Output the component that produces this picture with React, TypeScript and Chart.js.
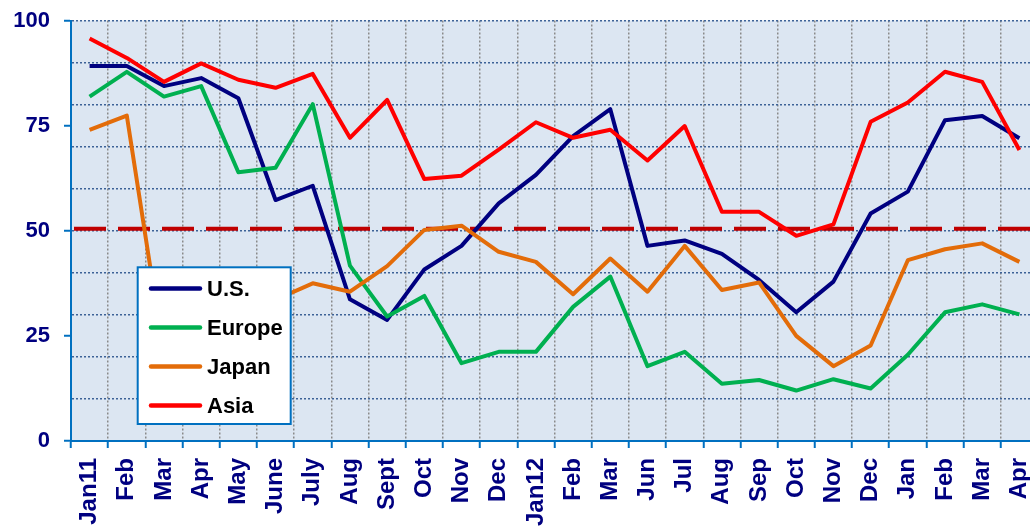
import React, { useEffect, useRef } from 'react';
import { Chart, registerables } from 'chart.js';

Chart.register(...registerables);

const categories = ['Jan11', 'Feb', 'Mar', 'Apr', 'May', 'June', 'July', 'Aug', 'Sept', 'Oct', 'Nov', 'Dec', 'Jan12', 'Feb', 'Mar', 'Jun', 'Jul', 'Aug', 'Sep', 'Oct', 'Nov', 'Dec', 'Jan', 'Feb', 'Mar', 'Apr'];
const usValues = [89.2, 89.2, 84.4, 86.3, 81.5, 57.3, 60.7, 33.7, 28.8, 40.8, 46.4, 56.5, 63.3, 72.5, 78.9, 46.4, 47.7, 44.5, 38.3, 30.6, 37.9, 54.1, 59.3, 76.3, 77.3, 72.0];
const europeValues = [81.9, 87.8, 81.9, 84.4, 63.9, 65.0, 80.1, 41.7, 29.6, 34.5, 18.5, 21.2, 21.2, 31.9, 39.1, 17.8, 21.2, 13.6, 14.5, 12.0, 14.7, 12.5, 20.5, 30.6, 32.5, 30.1];
const japanValues = [74.0, 77.4, 20.3, 18, 26, 33.6, 37.5, 35.5, 41.6, 50.2, 51.2, 45.0, 42.6, 34.9, 43.4, 35.5, 46.4, 35.9, 37.7, 25.0, 17.8, 22.7, 43.0, 45.6, 47.0, 42.6];
const asiaValues = [95.7, 91.1, 85.4, 89.8, 85.9, 84.0, 87.3, 72.1, 81.1, 62.3, 63.1, 69.3, 75.8, 72.1, 74.0, 66.7, 74.9, 54.5, 54.5, 48.8, 51.5, 75.9, 80.5, 87.8, 85.4, 69.2];
const seriesNames = ['U.S.', 'Europe', 'Japan', 'Asia'];
const seriesColors = ['#000080', '#00b050', '#e36c09', '#ff0000'];
const yTickLabels = [0, 25, 50, 75, 100];
const yGridStep = 10;
const thresholdValue = 50.5;

const FONT = "'Liberation Sans', Arial, sans-serif";

const backgroundPlugin = {
  id: 'plotBg',
  beforeDraw(chart: any) {
    const { ctx, chartArea } = chart;
    ctx.save();
    ctx.fillStyle = '#dce6f2';
    ctx.fillRect(chartArea.left, chartArea.top, chartArea.right - chartArea.left, chartArea.bottom - chartArea.top);
    ctx.restore();
  },
};

const thresholdPlugin = {
  id: 'threshold',
  beforeDatasetsDraw(chart: any) {
    const { ctx, chartArea, scales } = chart;
    const y = scales.y.getPixelForValue(thresholdValue);
    ctx.save();
    ctx.strokeStyle = '#c00000';
    ctx.lineWidth = 4;
    ctx.setLineDash([32, 12]);
    ctx.beginPath();
    ctx.moveTo(chartArea.left + 3, y);
    ctx.lineTo(chartArea.right, y);
    ctx.stroke();
    ctx.restore();
  },
};

const legendPlugin = {
  id: 'boxLegend',
  afterDraw(chart: any) {
    const { ctx } = chart;
    const left = 137.7;
    const top = 267.3;
    const w = 153;
    const h = 156.7;
    ctx.save();
    ctx.fillStyle = '#ffffff';
    ctx.fillRect(left, top, w, h);
    ctx.strokeStyle = '#0070c0';
    ctx.lineWidth = 2;
    ctx.strokeRect(left, top, w, h);
    ctx.font = `bold 22px ${FONT}`;
    ctx.textAlign = 'left';
    ctx.textBaseline = 'middle';
    chart.data.datasets.forEach((ds: any, i: number) => {
      const y = 288.5 + i * 39;
      ctx.strokeStyle = ds.borderColor;
      ctx.lineWidth = 4.5;
      ctx.lineCap = 'round';
      ctx.beginPath();
      ctx.moveTo(151, y);
      ctx.lineTo(200, y);
      ctx.stroke();
      ctx.fillStyle = '#000000';
      ctx.fillText(ds.label, 207, y + 1);
    });
    ctx.restore();
  },
};

export default function App() {
  const canvasRef = useRef<HTMLCanvasElement | null>(null);

  useEffect(() => {
    if (!canvasRef.current) return;
    const seriesValues = [usValues, europeValues, japanValues, asiaValues];
    const chart = new Chart(canvasRef.current, {
      type: 'line',
      data: {
        labels: categories,
        datasets: seriesNames.map((name, i) => ({
          label: name,
          data: seriesValues[i],
          borderColor: seriesColors[i],
          backgroundColor: seriesColors[i],
          borderWidth: 4,
          pointRadius: 0,
          tension: 0,
          fill: false,
          borderJoinStyle: 'round' as const,
          order: seriesNames.length - 1 - i,
        })),
      },
      options: {
        animation: false,
        responsive: false,
        devicePixelRatio: 1,
        layout: { padding: { top: 20.5, left: 0, right: 0, bottom: 0 } },
        plugins: {
          legend: { display: false },
          tooltip: { enabled: false },
        },
        scales: {
          x: {
            offset: true,
            afterFit(scale: any) {
              scale.height = 88;
              scale.paddingLeft = 0;
              scale.paddingRight = 0;
            },
            grid: {
              offset: true,
              color: '#8a8a8a',
              lineWidth: 1.5,
              tickColor: '#0070c0',
              tickLength: 7,
              tickWidth: 2,
            },
            border: { color: '#0070c0', width: 2, dash: [2, 2] },
            ticks: {
              autoSkip: false,
              maxRotation: 90,
              minRotation: 90,
              padding: 10,
              color: '#000080',
              font: { family: FONT, size: 24, weight: 'bold' },
            },
          },
          y: {
            min: 0,
            max: 100,
            afterFit(scale: any) {
              scale.width = 71;
              scale.paddingTop = 0;
              scale.paddingBottom = 0;
            },
            grid: {
              color: (c: any) => (c.tick && c.tick.value % yGridStep === 0 ? '#3d6297' : 'rgba(0,0,0,0)'),
              lineWidth: 1.5,
              tickColor: (c: any) => (c.tick && yTickLabels.includes(c.tick.value) ? '#0070c0' : 'rgba(0,0,0,0)'),
              tickLength: 7,
              tickWidth: 2,
            },
            border: { color: '#0070c0', width: 2, dash: [2, 2] },
            ticks: {
              stepSize: 5,
              autoSkip: false,
              padding: 14,
              color: '#000080',
              font: { family: FONT, size: 22, weight: 'bold' },
              callback: (v: any) => (yTickLabels.includes(Number(v)) ? String(v) : ''),
            },
          },
        },
      },
      plugins: [backgroundPlugin, thresholdPlugin, legendPlugin],
    });
    return () => chart.destroy();
  }, []);

  return (
    <div style={{ position: 'absolute', left: 0, top: 0, width: 1030, height: 529, overflow: 'hidden', background: '#ffffff' }}>
      <canvas ref={canvasRef} width={1038} height={529} style={{ display: 'block' }} />
    </div>
  );
}
